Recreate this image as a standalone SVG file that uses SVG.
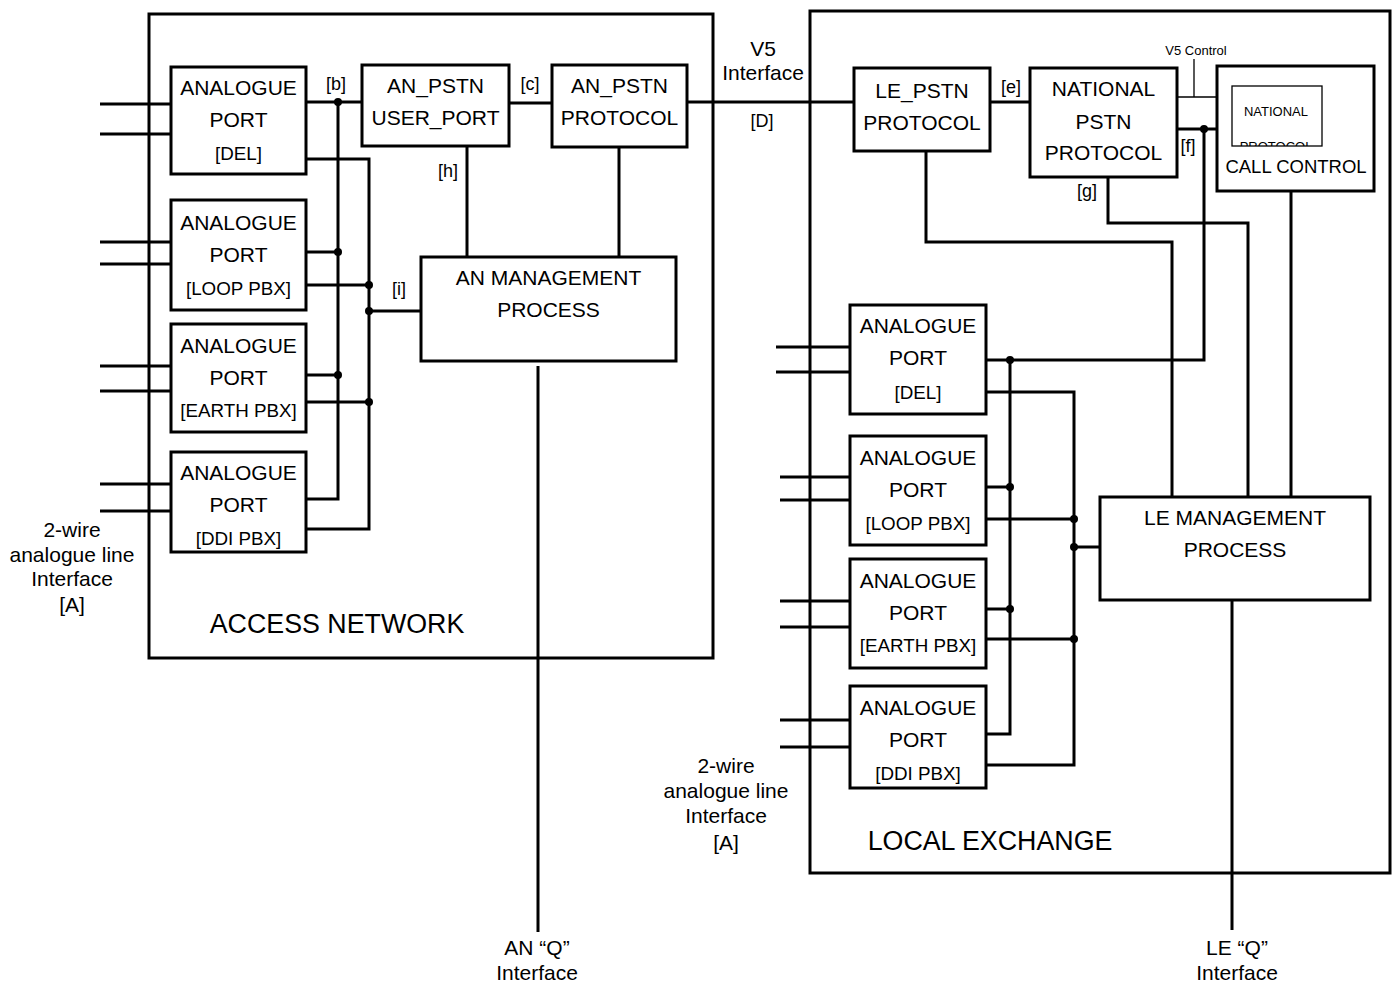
<svg xmlns="http://www.w3.org/2000/svg" width="1395" height="983" viewBox="0 0 1395 983">
  <style>
    .box { fill: #fff; stroke: #000; stroke-width: 3; }
    .frame { fill: none; stroke: #000; stroke-width: 3; }
    .thin { fill: none; stroke: #000; stroke-width: 1.3; }
    .wire { fill: none; stroke: #000; stroke-width: 3; }
    .dot { fill: #000; }
    text { font-family: "Liberation Sans", Arial, sans-serif; fill: #000; text-anchor: middle; }
    .t21 { font-size: 21px; }
    .t18 { font-size: 18px; }
    .tp { font-size: 18.8px; }
    .t20 { font-size: 21px; }
    .tcc { font-size: 18.5px; }
    .t26 { font-size: 26.8px; }
    .t13 { font-size: 13px; }
  </style>
  <defs>
    <clipPath id="natClip"><rect x="1232" y="86" width="90" height="60"/></clipPath>
  </defs>
  <rect width="1395" height="983" fill="#fff"/>

  <!-- Enclosures -->
  <g id="access-network">
    <rect class="frame" x="149" y="14" width="564" height="644"/>
    <text class="t26" x="337" y="633">ACCESS NETWORK</text>
  </g>
  <g id="local-exchange">
    <rect class="frame" x="810" y="11" width="580" height="862"/>
    <text class="t26" x="990" y="850">LOCAL EXCHANGE</text>
  </g>

  <!-- Connectors -->
  <g id="connectors">
    <!-- AN 2-wire inputs -->
    <path class="wire" d="M100 104H171M100 134H171M100 242H171M100 264H171M100 366H171M100 391H171M100 484H171M100 511H171"/>
    <!-- AN port bus 1 -->
    <path class="wire" d="M306 102H362M338 102V499H306M306 252H338M306 375H338"/>
    <!-- AN port bus 2 -->
    <path class="wire" d="M306 159H369V529H306M306 285H369M306 402H369M369 311H421"/>
    <!-- AN internal links and V5 link -->
    <path class="wire" d="M509 103H552M687 102H854M467 147V257M619 147V257M538 366V932"/>
    <!-- LE 2-wire inputs -->
    <path class="wire" d="M776 347H850M776 372H850M780 477H850M780 500H850M780 601H850M780 627H850M780 720H850M780 747H850"/>
    <!-- LE port bus 1 -->
    <path class="wire" d="M986 360H1204V129M1010 360V734H986M986 487H1010M986 609H1010"/>
    <!-- LE port bus 2 -->
    <path class="wire" d="M986 392H1074V765H986M986 519H1074M986 639H1074M1074 547H1100"/>
    <!-- LE internal -->
    <path class="wire" d="M990 102H1030M926 151V242H1172V497M1108 177V223H1248V497M1291 191V497M1232 600V930M1177 129H1232"/>
    <!-- V5 control (thin) -->
    <path class="thin" d="M1177 97H1232M1194 59V97"/>
    <!-- junction dots -->
    <g class="dot">
      <circle cx="338" cy="102" r="4"/>
      <circle cx="338" cy="252" r="4"/>
      <circle cx="338" cy="375" r="4"/>
      <circle cx="369" cy="285" r="4"/>
      <circle cx="369" cy="311" r="4"/>
      <circle cx="369" cy="402" r="4"/>
      <circle cx="1010" cy="360" r="4"/>
      <circle cx="1010" cy="487" r="4"/>
      <circle cx="1010" cy="609" r="4"/>
      <circle cx="1074" cy="519" r="4"/>
      <circle cx="1074" cy="547" r="4"/>
      <circle cx="1074" cy="639" r="4"/>
      <circle cx="1204" cy="129" r="4"/>
    </g>
    <!-- reference point labels -->
    <text class="t18" x="336" y="90">[b]</text>
    <text class="t18" x="530" y="90">[c]</text>
    <text class="t18" x="448" y="177">[h]</text>
    <text class="t18" x="399" y="295">[i]</text>
    <text class="t20" x="763" y="56">V5</text>
    <text class="t20" x="763" y="80">Interface</text>
    <text class="t18" x="762" y="127">[D]</text>
    <text class="t18" x="1011" y="93">[e]</text>
    <text class="t18" x="1188" y="152">[f]</text>
    <text class="t18" x="1087" y="197">[g]</text>
    <text class="t13" x="1196" y="55">V5 Control</text>
    <text class="t20" x="72" y="537">2-wire</text>
    <text class="t20" x="72" y="562">analogue line</text>
    <text class="t20" x="72" y="586">Interface</text>
    <text class="t20" x="72" y="612">[A]</text>
    <text class="t20" x="726" y="773">2-wire</text>
    <text class="t20" x="726" y="798">analogue line</text>
    <text class="t20" x="726" y="823">Interface</text>
    <text class="t20" x="726" y="850">[A]</text>
    <text class="t20" x="537" y="955">AN “Q”</text>
    <text class="t20" x="537" y="980">Interface</text>
    <text class="t20" x="1237" y="955">LE “Q”</text>
    <text class="t20" x="1237" y="980">Interface</text>
  </g>

  <!-- AN analogue ports -->
  <g id="an-port-del">
    <rect class="box" x="171" y="67" width="135" height="107"/>
    <text class="t21" x="238.5" y="95">ANALOGUE</text>
    <text class="t21" x="238.5" y="127">PORT</text>
    <text class="tp" x="238.5" y="160">[DEL]</text>
  </g>
  <g id="an-port-loop">
    <rect class="box" x="171" y="200" width="135" height="110"/>
    <text class="t21" x="238.5" y="230">ANALOGUE</text>
    <text class="t21" x="238.5" y="262">PORT</text>
    <text class="tp" x="238.5" y="295">[LOOP PBX]</text>
  </g>
  <g id="an-port-earth">
    <rect class="box" x="171" y="324" width="135" height="108"/>
    <text class="t21" x="238.5" y="353">ANALOGUE</text>
    <text class="t21" x="238.5" y="385">PORT</text>
    <text class="tp" x="238.5" y="417">[EARTH PBX]</text>
  </g>
  <g id="an-port-ddi">
    <rect class="box" x="171" y="452" width="135" height="100"/>
    <text class="t21" x="238.5" y="480">ANALOGUE</text>
    <text class="t21" x="238.5" y="512">PORT</text>
    <text class="tp" x="238.5" y="545">[DDI PBX]</text>
  </g>

  <g id="an-pstn-user-port">
    <rect class="box" x="362" y="65" width="147" height="81"/>
    <text class="t21" x="435.5" y="93">AN_PSTN</text>
    <text class="t21" x="435.5" y="125">USER_PORT</text>
  </g>
  <g id="an-pstn-protocol">
    <rect class="box" x="552" y="65" width="135" height="82"/>
    <text class="t21" x="619.5" y="93">AN_PSTN</text>
    <text class="t21" x="619.5" y="125">PROTOCOL</text>
  </g>
  <g id="an-management">
    <rect class="box" x="421" y="257" width="255" height="104"/>
    <text class="t21" x="548.5" y="285">AN MANAGEMENT</text>
    <text class="t21" x="548.5" y="317">PROCESS</text>
  </g>

  <!-- LE blocks -->
  <g id="le-pstn-protocol">
    <rect class="box" x="854" y="68" width="136" height="83"/>
    <text class="t21" x="922" y="98">LE_PSTN</text>
    <text class="t21" x="922" y="130">PROTOCOL</text>
  </g>
  <g id="national-pstn-protocol">
    <rect class="box" x="1030" y="68" width="147" height="109"/>
    <text class="t21" x="1103.5" y="96">NATIONAL</text>
    <text class="t21" x="1103.5" y="129">PSTN</text>
    <text class="t21" x="1103.5" y="160">PROTOCOL</text>
  </g>
  <g id="call-control">
    <rect class="box" x="1217" y="66" width="157" height="125"/>
    <text class="tcc" x="1296" y="173">CALL CONTROL</text>
  </g>
  <g id="national-protocol">
    <rect class="thin" x="1232" y="86" width="90" height="60"/>
    <g clip-path="url(#natClip)">
      <text class="t13" x="1276" y="116">NATIONAL</text>
      <text class="t13" x="1276" y="151">PROTOCOL</text>
    </g>
  </g>

  <g id="le-port-del">
    <rect class="box" x="850" y="305" width="136" height="109"/>
    <text class="t21" x="918" y="333">ANALOGUE</text>
    <text class="t21" x="918" y="365">PORT</text>
    <text class="tp" x="918" y="399">[DEL]</text>
  </g>
  <g id="le-port-loop">
    <rect class="box" x="850" y="436" width="136" height="109"/>
    <text class="t21" x="918" y="465">ANALOGUE</text>
    <text class="t21" x="918" y="497">PORT</text>
    <text class="tp" x="918" y="530">[LOOP PBX]</text>
  </g>
  <g id="le-port-earth">
    <rect class="box" x="850" y="559" width="136" height="109"/>
    <text class="t21" x="918" y="588">ANALOGUE</text>
    <text class="t21" x="918" y="620">PORT</text>
    <text class="tp" x="918" y="652">[EARTH PBX]</text>
  </g>
  <g id="le-port-ddi">
    <rect class="box" x="850" y="686" width="136" height="102"/>
    <text class="t21" x="918" y="715">ANALOGUE</text>
    <text class="t21" x="918" y="747">PORT</text>
    <text class="tp" x="918" y="780">[DDI PBX]</text>
  </g>
  <g id="le-management">
    <rect class="box" x="1100" y="497" width="270" height="103"/>
    <text class="t21" x="1235" y="525">LE MANAGEMENT</text>
    <text class="t21" x="1235" y="557">PROCESS</text>
  </g>
</svg>
